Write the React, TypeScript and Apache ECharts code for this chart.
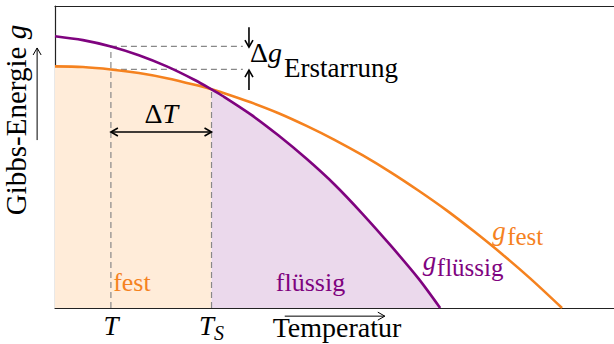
import React, { useEffect, useRef } from "react";
import * as echarts from "echarts";

// Temperature (arbitrary units) and Gibbs energy values
const T_FEST = [0, 0.5, 1, 1.5, 2, 2.5, 2.8, 3, 3.5, 4, 4.5, 5, 5.5, 6, 6.5, 7, 7.5, 8, 8.5, 9.07];
const G_FEST = [8, 7.98, 7.9, 7.78, 7.61, 7.39, 7.24, 7.13, 6.81, 6.45, 6.03, 5.57, 5.06, 4.5, 3.89, 3.24, 2.53, 1.78, 0.98, 0];
const T_FL = [0, 0.5, 1, 1.5, 2, 2.5, 2.8, 3, 3.5, 4, 4.5, 5, 5.5, 6, 6.5, 6.89];
const G_FL = [9, 8.87, 8.66, 8.37, 8.0, 7.55, 7.24, 7.02, 6.41, 5.71, 4.94, 4.09, 3.12, 2.08, 0.98, 0];

const T_MARK = 1.0; // T (undercooled)
const T_S = 2.8; // melting temperature
const G_FL_AT_T = 8.66;
const G_FEST_AT_T = 7.9;
const G_AT_TS = 7.24;
const DASH_END = 3.36;

const TICK_VALUES = [T_MARK, T_S];
const TICK_LABELS = ["{i|T}", "{i|T}{s|S}"];

// annotation arrows: [x1, y1, x2, y2, doubleHeaded]
const ARROWS = [
  [3.47, 9.3, 3.47, 8.64, 0],
  [3.47, 7.22, 3.47, 7.88, 0],
  [1.0, 5.83, 2.8, 5.83, 1],
  [4.11, -0.27, 5.9, -0.27, 0],
  [-0.32, 5.56, -0.32, 8.61, 0],
];
const ARROW_WIDTH = [1.6, 1.6, 1.6, 1, 1];

// text annotations
const LABEL_T = [1.04, 3.95, 7.82, 6.58, 1.9, 3.49];
const LABEL_G = [0.85, 0.85, 2.56, 1.56, 6.44, 8.46];
const LABEL_MAIN = ["fest", "flüssig", "{i|g}", "{i|g}", "{d|Δ}{i|T}", "{d|Δ}{i|g}"];
const LABEL_SUB = ["", "", "fest", "flüssig", "", "Erstarrung"];

const ORANGE = "#f5821f";
const PURPLE = "#7f037f";
const FONT = "'Liberation Serif', serif";

const LABEL_STYLE = [
  { color: ORANGE, size: 26, align: "left", sx: 0, sy: 0, sub: 25 },
  { color: PURPLE, size: 26, align: "left", sx: 0, sy: 0, sub: 25 },
  { color: ORANGE, size: 27, align: "left", sx: 15, sy: 5.7, sub: 25 },
  { color: PURPLE, size: 27, align: "left", sx: 14, sy: 6.7, sub: 25 },
  { color: "#000", size: 28, align: "center", sx: 0, sy: 0, sub: 25 },
  { color: "#000", size: 28, align: "left", sx: 34, sy: 15.3, sub: 27 },
];

const zip = (xs: number[], ys: number[]) => xs.map((x, i) => [x, ys[i]]);

export default function App() {
  const ref = useRef<HTMLDivElement>(null);
  useEffect(() => {
    document.body.style.margin = "0";
    if (!ref.current) return;
    const chart = echarts.init(ref.current, undefined, { renderer: "svg" });
    const fest = zip(T_FEST, G_FEST);
    const fl = zip(T_FL, G_FL);
    const dashStyle = { color: "#888", width: 1.2, type: [6, 4] as any };
    const dashed = (data: number[][]) => ({
      type: "line",
      data,
      symbol: "none",
      silent: true,
      lineStyle: dashStyle,
      z: 3,
    });
    const axisLine = { show: true, onZero: false, lineStyle: { color: "#222", width: 1.2 } };
    const rich = (size: number, color: string) => ({
      i: { fontFamily: FONT, fontStyle: "italic", fontSize: size, color },
      d: { fontFamily: FONT, fontSize: size, color },
    });

    chart.setOption({
      animation: false,
      textStyle: { fontFamily: FONT },
      grid: { left: 55, right: 0, top: 6, bottom: 36, containLabel: false, outerBoundsMode: "none" },
      xAxis: [
        {
          type: "value",
          min: 0,
          max: 10,
          position: "bottom",
          axisLine,
          axisTick: { show: false },
          splitLine: { show: false },
          axisLabel: {
            customValues: TICK_VALUES,
            margin: 18,
            verticalAlign: "middle",
            formatter: (v: number) => (Math.abs(v - T_S) < 1e-6 ? TICK_LABELS[1] : TICK_LABELS[0]),
            rich: {
              i: { fontFamily: FONT, fontStyle: "italic", fontSize: 27, color: "#000", lineHeight: 34, verticalAlign: "middle" },
              s: { fontFamily: FONT, fontStyle: "italic", fontSize: 20, color: "#000", lineHeight: 16, verticalAlign: "bottom" },
            },
          },
          name: "Temperatur",
          nameLocation: "middle",
          nameGap: 19,
          nameMoveOverlap: false,
          nameTextStyle: { fontFamily: FONT, fontSize: 28, color: "#000", verticalAlign: "middle", padding: [0, 0, 0, 5] },
        },
        {
          type: "value",
          min: 0,
          max: 10,
          position: "top",
          axisLine,
          axisTick: { show: false },
          axisLabel: { show: false },
          splitLine: { show: false },
        },
      ],
      yAxis: {
        type: "value",
        min: 0,
        max: 10,
        axisLine,
        axisTick: { show: false },
        axisLabel: { show: false },
        splitLine: { show: false },
        name: "{n|Gibbs-Energie }{g|g}",
        nameLocation: "middle",
        nameRotate: 90,
        nameGap: 39,
        nameMoveOverlap: false,
        nameTextStyle: {
          verticalAlign: "middle",
          padding: [0, 0, 0, 74],
          rich: {
            n: { fontFamily: FONT, fontSize: 29, color: "#000" },
            g: { fontFamily: FONT, fontSize: 29, fontStyle: "italic", color: "#000" },
          },
        },
      },
      series: [
        {
          type: "line",
          data: fest.filter((p) => p[0] <= T_S + 1e-9),
          smooth: 0.3,
          symbol: "none",
          lineStyle: { width: 0 },
          areaStyle: { color: "#ffecd9", opacity: 1 },
          z: 1,
          silent: true,
        },
        {
          type: "line",
          data: fl.filter((p) => p[0] >= T_S - 1e-9),
          smooth: 0.3,
          symbol: "none",
          lineStyle: { width: 0 },
          areaStyle: { color: "#ebd9ec", opacity: 1 },
          z: 1,
          silent: true,
        },
        dashed([[T_MARK, 0], [T_MARK, G_FL_AT_T]]),
        dashed([[T_S, 0], [T_S, G_AT_TS]]),
        dashed([[T_MARK, G_FL_AT_T], [DASH_END, G_FL_AT_T]]),
        dashed([[T_MARK, G_FEST_AT_T], [DASH_END, G_FEST_AT_T]]),
        {
          name: "g_fest",
          type: "line",
          data: fest,
          smooth: 0.3,
          symbol: "none",
          lineStyle: { color: ORANGE, width: 2.6 },
          z: 5,
        },
        {
          name: "g_flüssig",
          type: "line",
          data: fl,
          smooth: 0.3,
          symbol: "none",
          lineStyle: { color: PURPLE, width: 2.6 },
          z: 6,
        },
        {
          type: "custom",
          coordinateSystem: "cartesian2d",
          data: ARROWS,
          z: 7,
          silent: true,
          renderItem: (params: any, api: any) => {
            const a = api.coord([api.value(0), api.value(1)]);
            const b = api.coord([api.value(2), api.value(3)]);
            const both = api.value(4) === 1;
            const w = ARROW_WIDTH[params.dataIndex];
            const dx = b[0] - a[0];
            const dy = b[1] - a[1];
            const len = Math.hypot(dx, dy) || 1;
            const ux = dx / len;
            const uy = dy / len;
            const nx = -uy;
            const ny = ux;
            const L = 7;
            const W = 4;
            const head = (p: number[], sx: number, sy: number) => ({
              type: "polyline",
              shape: {
                points: [
                  [p[0] - L * sx + W * nx, p[1] - L * sy + W * ny],
                  [p[0], p[1]],
                  [p[0] - L * sx - W * nx, p[1] - L * sy - W * ny],
                ],
              },
              style: { stroke: "#000", fill: null, lineWidth: w },
            });
            const children: any[] = [
              { type: "line", shape: { x1: a[0], y1: a[1], x2: b[0], y2: b[1] }, style: { stroke: "#000", lineWidth: w } },
              head(b, ux, uy),
            ];
            if (both) children.push(head(a, -ux, -uy));
            return { type: "group", children };
          },
        },
        {
          type: "custom",
          coordinateSystem: "cartesian2d",
          data: zip(LABEL_T, LABEL_G),
          z: 8,
          silent: true,
          renderItem: (params: any, api: any) => {
            const i = params.dataIndex;
            const st = LABEL_STYLE[i];
            const p = api.coord([api.value(0), api.value(1)]);
            const children: any[] = [
              {
                type: "text",
                x: p[0],
                y: p[1],
                style: {
                  text: LABEL_MAIN[i],
                  fill: st.color,
                  fontFamily: FONT,
                  fontSize: st.size,
                  align: st.align,
                  verticalAlign: "middle",
                  rich: rich(st.size, st.color),
                },
              },
            ];
            if (LABEL_SUB[i]) {
              children.push({
                type: "text",
                x: p[0] + st.sx,
                y: p[1] + st.sy,
                style: {
                  text: LABEL_SUB[i],
                  fill: st.color,
                  fontFamily: FONT,
                  fontSize: st.sub,
                  align: "left",
                  verticalAlign: "middle",
                },
              });
            }
            return { type: "group", children };
          },
        },
      ],
    });
    return () => chart.dispose();
  }, []);
  return <div ref={ref} style={{ width: 614, height: 344 }} />;
}
